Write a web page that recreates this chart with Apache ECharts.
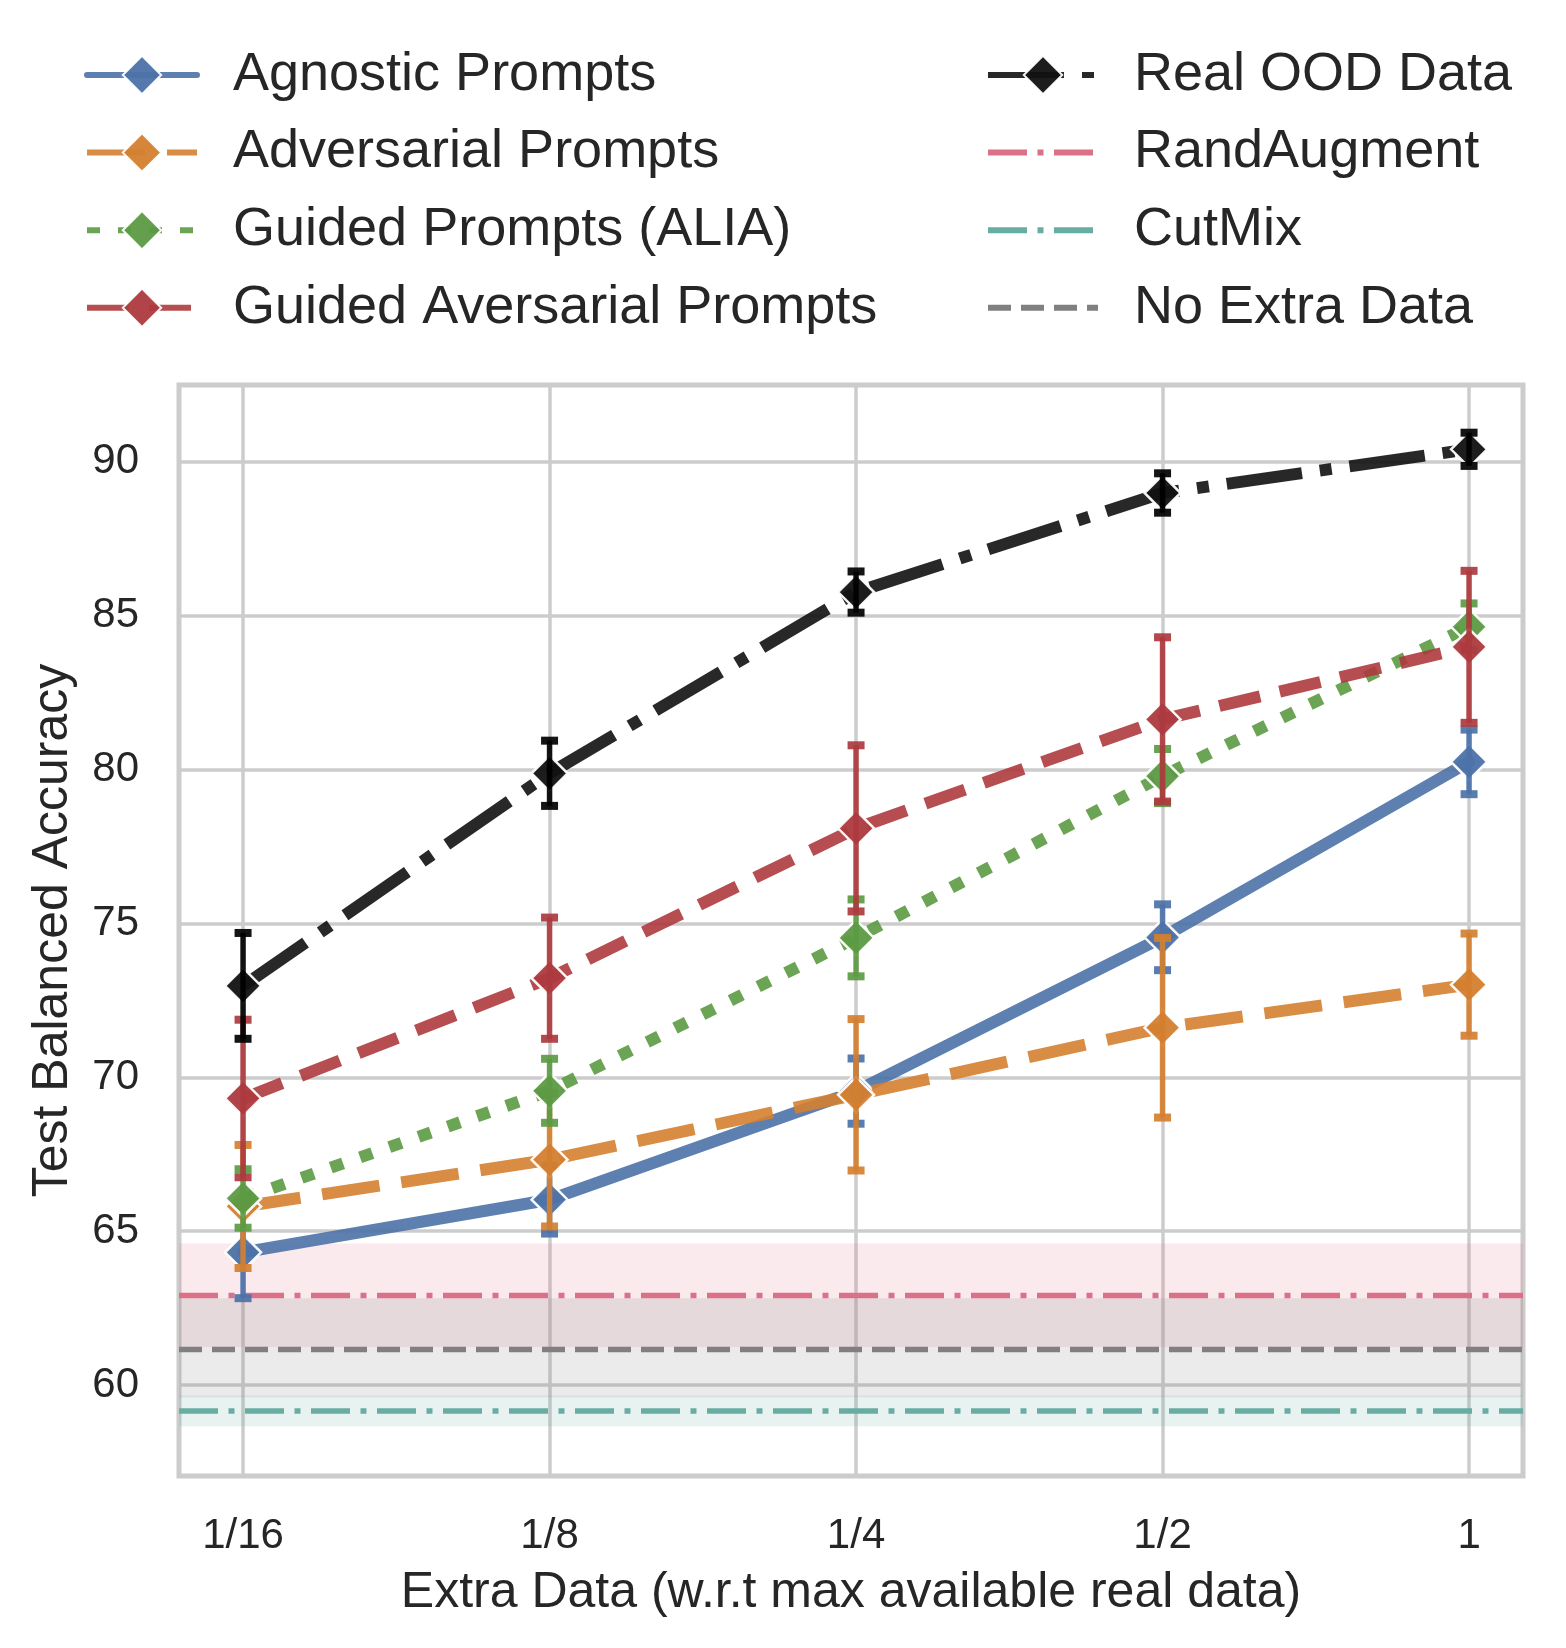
<!DOCTYPE html>
<html><head><meta charset="utf-8">
<script src="https://cdn.jsdelivr.net/npm/echarts@6/dist/echarts.min.js"></script>
<style>html,body{margin:0;padding:0;background:#fff}#c{width:1566px;height:1648px}</style>
</head><body><div id="c"></div>
<script>
// ---- data ----
const xTickLabels = ['1/16', '1/8', '1/4', '1/2', '1'];
const xPositions = [0, 1, 2, 3, 4];
const yTicks = [60, 65, 70, 75, 80, 85, 90];

const agnosticMean = [64.31, 66.02, 69.55, 74.55, 80.25];
const agnosticErr  = [1.49, 1.10, 1.06, 1.07, 1.05];
const adversarialMean = [65.80, 67.32, 69.43, 71.61, 73.01];
const adversarialErr  = [2.00, 2.17, 2.46, 2.92, 1.66];
const guidedMean = [66.06, 69.56, 74.53, 79.79, 84.64];
const guidedErr  = [0.95, 1.04, 1.25, 0.88, 0.76];
const guidedAdvMean = [69.31, 73.22, 78.09, 81.63, 83.99];
const guidedAdvErr  = [2.56, 1.97, 2.70, 2.67, 2.47];
const realOodMean = [72.97, 79.88, 85.77, 88.99, 90.41];
const realOodErr  = [1.72, 1.06, 0.67, 0.64, 0.54];

const randAugmentMean = 62.91, randAugmentLow = 61.23, randAugmentHigh = 64.60;
const cutMixMean = 59.15, cutMixLow = 58.66, cutMixHigh = 59.66;
const noExtraMean = 61.15, noExtraLow = 59.60, noExtraHigh = 62.82;

const X_MIN = -0.209, X_MAX = 4.176;
const Y_MIN = 57.04, Y_MAX = 92.5;

// ---- helpers ----
const FONT = 'Liberation Sans';
const TXT = '#262626';

function pts(mean) { return xPositions.map((x, i) => [x, mean[i]]); }
function errPts(mean, err) { return xPositions.map((x, i) => [x, mean[i] - err[i], mean[i] + err[i]]); }

function errRenderer(color) {
  return function (params, api) {
    const x = api.value(0), lo = api.value(1), hi = api.value(2);
    const a = api.coord([x, lo]), b = api.coord([x, hi]);
    const cw = 8.5;
    return {
      type: 'group',
      children: [
        { type: 'line', shape: { x1: a[0], y1: a[1], x2: b[0], y2: b[1] }, style: { stroke: color, lineWidth: 5.5, opacity: 0.92 } },
        { type: 'line', shape: { x1: a[0] - cw, y1: a[1], x2: a[0] + cw, y2: a[1] }, style: { stroke: color, lineWidth: 8, opacity: 0.92 } },
        { type: 'line', shape: { x1: b[0] - cw, y1: b[1], x2: b[0] + cw, y2: b[1] }, style: { stroke: color, lineWidth: 8, opacity: 0.92 } }
      ]
    };
  };
}

function mainSeries(name, mean, color, dash, z, cap) {
  return {
    name: name, type: 'line', data: pts(mean), z: z,
    symbol: 'diamond', symbolSize: 36, showSymbol: true,
    itemStyle: { color: color, borderColor: '#ffffff', borderWidth: 2.5, opacity: 0.95 },
    lineStyle: { color: color, width: 12, type: dash, opacity: 0.9, cap: cap || 'butt' },
    emphasis: { disabled: true }, animation: false
  };
}
function errSeries(name, mean, err, color, z) {
  return {
    name: name + ' err', type: 'custom', data: errPts(mean, err), z: z,
    renderItem: errRenderer(color), encode: { x: 0, y: [1, 2] }, animation: false, silent: true
  };
}
function refSeries(name, mean, lo, hi, color, dash, bandColor) {
  return {
    name: name, type: 'line', data: [[X_MIN, mean], [X_MAX, mean]], z: 2,
    symbol: 'none', showSymbol: false,
    lineStyle: { color: color, width: 5.5, type: dash },
    itemStyle: { color: color },
    markArea: { silent: true, itemStyle: { color: bandColor }, data: [[{ yAxis: lo }, { yAxis: hi }]] },
    emphasis: { disabled: true }, animation: false
  };
}

const C_BLUE = '#4C72A8', C_ORANGE = '#D47F30', C_GREEN = '#5C9A43', C_RED = '#AD3A3E', C_BLACK = '#111111';
const C_PINK = '#DB7089', C_TEAL = '#68ADA2', C_GREY = '#808080';

const chart = echarts.init(document.getElementById('c'), null, { renderer: 'canvas' });
const legendCommon = {
  orient: 'vertical', itemWidth: 110, itemHeight: 48, itemGap: 23.6,
  textStyle: { fontFamily: FONT, fontSize: 54, color: TXT, lineHeight: 48 },
  lineStyle: { width: 6 }, selectedMode: false, top: 43
};
const hideSym = { opacity: 0 };
chart.setOption({
  animation: false,
  backgroundColor: '#ffffff',
  textStyle: { fontFamily: FONT },
  legend: [
    Object.assign({}, legendCommon, { left: 79, data: ['Agnostic Prompts', 'Adversarial Prompts', 'Guided Prompts (ALIA)', 'Guided Aversarial Prompts'],
      textStyle: Object.assign({}, legendCommon.textStyle, { padding: [0, 0, 0, 31] }) }),
    Object.assign({}, legendCommon, { left: 980,
      data: ['Real OOD Data',
        { name: 'RandAugment', itemStyle: hideSym },
        { name: 'CutMix', itemStyle: hideSym },
        { name: 'No Extra Data', itemStyle: hideSym }],
      textStyle: Object.assign({}, legendCommon.textStyle, { padding: [0, 0, 0, 31] }) })
  ],
  grid: { left: 179, right: 43, top: 385, bottom: 172, show: true, borderColor: '#cccccc', borderWidth: 5, backgroundColor: 'transparent' },
  xAxis: {
    type: 'value', min: X_MIN, max: X_MAX,
    name: 'Extra Data (w.r.t max available real data)', nameLocation: 'middle', nameGap: 92,
    nameTextStyle: { fontFamily: FONT, fontSize: 50, color: TXT },
    axisLine: { show: false }, axisTick: { show: false, customValues: xPositions },
    axisLabel: { customValues: xPositions, formatter: v => xTickLabels[Math.round(v)], fontFamily: FONT, fontSize: 42, color: TXT, margin: 39 },
    splitLine: { show: true, lineStyle: { color: '#cccccc', width: 3.5 } }
  },
  yAxis: {
    type: 'value', min: Y_MIN, max: Y_MAX,
    name: 'Test Balanced Accuracy', nameLocation: 'middle', nameGap: 101, nameRotate: 90,
    nameTextStyle: { fontFamily: FONT, fontSize: 50, color: TXT },
    axisLine: { show: false }, axisTick: { show: false, customValues: yTicks },
    axisLabel: { customValues: yTicks, fontFamily: FONT, fontSize: 42, color: TXT, margin: 40 },
    splitLine: { show: true, lineStyle: { color: '#cccccc', width: 3.5 } }
  },
  series: [
    refSeries('RandAugment', randAugmentMean, randAugmentLow, randAugmentHigh, C_PINK, [39, 10.5, 6, 10.5], 'rgba(219,112,137,0.15)'),
    refSeries('No Extra Data', noExtraMean, noExtraLow, noExtraHigh, C_GREY, [23, 10], 'rgba(128,128,128,0.16)'),
    refSeries('CutMix', cutMixMean, cutMixLow, cutMixHigh, C_TEAL, [39, 10.5, 6, 10.5], 'rgba(104,173,162,0.15)'),
    mainSeries('Agnostic Prompts', agnosticMean, C_BLUE, 'solid', 3, 'round'),
    errSeries('Agnostic Prompts', agnosticMean, agnosticErr, C_BLUE, 4),
    mainSeries('Adversarial Prompts', adversarialMean, C_ORANGE, [58, 22], 5),
    errSeries('Adversarial Prompts', adversarialMean, adversarialErr, C_ORANGE, 6),
    mainSeries('Guided Prompts (ALIA)', guidedMean, C_GREEN, [13, 18], 7),
    errSeries('Guided Prompts (ALIA)', guidedMean, guidedErr, C_GREEN, 8),
    mainSeries('Guided Aversarial Prompts', guidedAdvMean, C_RED, [42, 20], 9),
    errSeries('Guided Aversarial Prompts', guidedAdvMean, guidedAdvErr, C_RED, 10),
    mainSeries('Real OOD Data', realOodMean, C_BLACK, [76, 18, 12, 18], 11),
    errSeries('Real OOD Data', realOodMean, realOodErr, '#000000', 12)
  ]
});
</script>
</body></html>
